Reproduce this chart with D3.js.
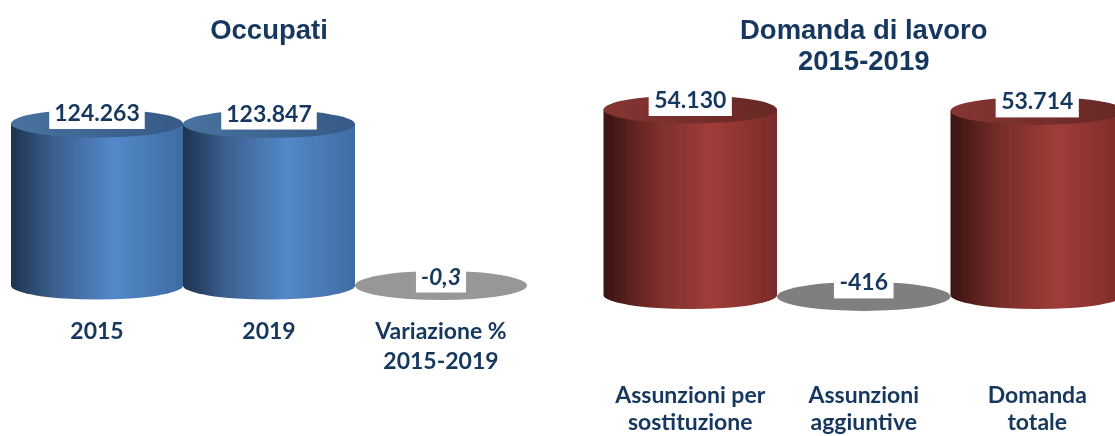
<!DOCTYPE html>
<html>
<head>
<meta charset="utf-8">
<script src="https://cdn.jsdelivr.net/npm/d3@7/dist/d3.min.js"></script>
<style>
  html, body { margin: 0; padding: 0; background: #fff; overflow: hidden; }
  svg { display: block; }
  .title { font-family: "Liberation Sans", Arial, sans-serif; font-weight: bold; font-size: 27.5px; fill: #17375e; text-anchor: middle; }
  .value { font-family: Lato, sans-serif; font-weight: bold; font-size: 23px; fill: #17375e; text-anchor: middle; }
  .axis text { font-family: Lato, sans-serif; font-weight: bold; font-size: 23px; fill: #17375e; }
</style>
</head>
<body>
<svg id="chart" width="1115" height="436"></svg>
<script>
var occupatiCategories = ['2015', '2019', 'Variazione %\n2015-2019'];
var occupatiValues = [124263, 123847, -0.3];
var occupatiTitle = ['Occupati'];

var domandaCategories = ['Assunzioni per\nsostituzione', 'Assunzioni\naggiuntive', 'Domanda\ntotale'];
var domandaValues = [54130, -416, 53714];
var domandaTitle = ['Domanda di lavoro', '2015-2019'];

var blueStops = ['#1f3350', '#3b5f8f', '#5488c9', '#3f6ba3'];
var blueTop = ['#47729f', '#375a86'];
var redStops = ['#3a1412', '#7a2e2b', '#a03d39', '#7a2b29'];
var redTop = ['#863532', '#662825'];

var svg = d3.select('#chart');
var defs = svg.append('defs');
var ry = 14;
var itFormat = d3.formatLocale({decimal: ',', thousands: '.', grouping: [3], currency: ['', ''], minus: '-'});

function addGradient(id, colors, offsets) {
    var g = defs.append('linearGradient').attr('id', id);
    colors.forEach(function(c, i) {
        g.append('stop').attr('offset', offsets[i]).attr('stop-color', c);
    });
}
addGradient('blueSide', blueStops, ['0%', '25%', '60%', '100%']);
addGradient('blueTop', blueTop, ['0%', '100%']);
addGradient('redSide', redStops, ['0%', '30%', '62%', '100%']);
addGradient('redTop', redTop, ['0%', '100%']);

// the source is a soft, scaled-up picture
defs.append('filter').attr('id', 'soft')
    .attr('filterUnits', 'userSpaceOnUse')
    .attr('x', 0).attr('y', 0).attr('width', 1115).attr('height', 436)
    .append('feGaussianBlur').attr('stdDeviation', 0.4);

var root = svg.append('g').attr('filter', 'url(#soft)');

function drawPanel(opts) {
    var x = d3.scaleBand().domain(opts.categories).range(opts.xRange).padding(0);
    var y = d3.scaleLinear().domain([0, d3.max(opts.values)]).range([opts.base, opts.top]);
    var rx = x.bandwidth() / 2;
    var g = root.append('g');

    g.selectAll('.title').data(opts.title).enter().append('text')
        .attr('class', 'title')
        .attr('x', (opts.xRange[0] + opts.xRange[1]) / 2)
        .attr('y', function(d, i) { return opts.titleY + i * 30.5; })
        .text(function(d) { return d; });

    var cyl = g.selectAll('.cyl').data(opts.values).enter().append('g')
        .attr('class', 'cyl')
        .attr('transform', function(d, i) { return 'translate(' + (x(opts.categories[i]) + rx) + ',0)'; });

    // body: side wall down to the lower rim
    cyl.filter(function(d) { return d > 0; }).append('path')
        .attr('d', function(d) {
            return 'M' + (-rx) + ',' + y(d) + 'L' + (-rx) + ',' + y(0) +
                'A' + rx + ',' + ry + ' 0 0 0 ' + rx + ',' + y(0) +
                'L' + rx + ',' + y(d) + 'Z';
        })
        .attr('fill', 'url(#' + opts.side + ')');
    cyl.filter(function(d) { return d > 0; }).append('ellipse')
        .attr('rx', rx).attr('ry', ry)
        .attr('cy', function(d) { return y(d); })
        .attr('fill', 'url(#' + opts.cap + ')');
    cyl.filter(function(d) { return d <= 0; }).append('ellipse')
        .attr('rx', rx).attr('ry', ry + 0.5)
        .attr('cy', function(d) { return y(d); })
        .attr('fill', opts.disc);

    // value labels on white boxes
    cyl.each(function(d) {
        var c = d3.select(this);
        var label = Math.abs(d) < 1 ? itFormat.format(',.1f')(d) : itFormat.format(',d')(d);
        var bottom = y(d) + (d > 0 ? opts.boxTall : opts.boxDisc);
        var rect = c.append('rect').attr('fill', '#fff');
        var t = c.append('text').attr('class', 'value')
            .attr('y', bottom - 8)
            .style('font-style', Math.abs(d) < 1 ? 'italic' : 'normal')
            .text(label);
        var w = t.node().getComputedTextLength() + opts.boxPad * 2;
        rect.attr('x', -w / 2).attr('width', w)
            .attr('y', bottom - 29).attr('height', 29);
    });

    var axis = d3.axisBottom(x).tickSize(0).tickPadding(0);
    var ax = g.append('g').attr('class', 'axis')
        .attr('transform', 'translate(0,' + opts.labelY + ')')
        .call(axis);
    ax.select('.domain').remove();
    ax.selectAll('.tick text').each(function(d) {
        var t = d3.select(this).text(null).attr('y', 0).attr('dy', null);
        d.split('\n').forEach(function(line, i) {
            t.append('tspan').attr('x', 0).attr('y', i * opts.lineGap).text(line);
        });
    });
}

drawPanel({
    categories: occupatiCategories, values: occupatiValues, title: occupatiTitle,
    xRange: [11, 527], base: 285.5, top: 123.5, titleY: 39, labelY: 339, lineGap: 30,
    side: 'blueSide', cap: 'blueTop', disc: '#979797',
    boxTall: 5.5, boxDisc: 7, boxPad: 5
});
drawPanel({
    categories: domandaCategories, values: domandaValues, title: domandaTitle,
    xRange: [603.5, 1124], base: 295, top: 109.5, titleY: 39, labelY: 403, lineGap: 27,
    side: 'redSide', cap: 'redTop', disc: '#7f7f7f',
    boxTall: 6.5, boxDisc: 2, boxPad: 5.5
});
</script>
</body>
</html>
